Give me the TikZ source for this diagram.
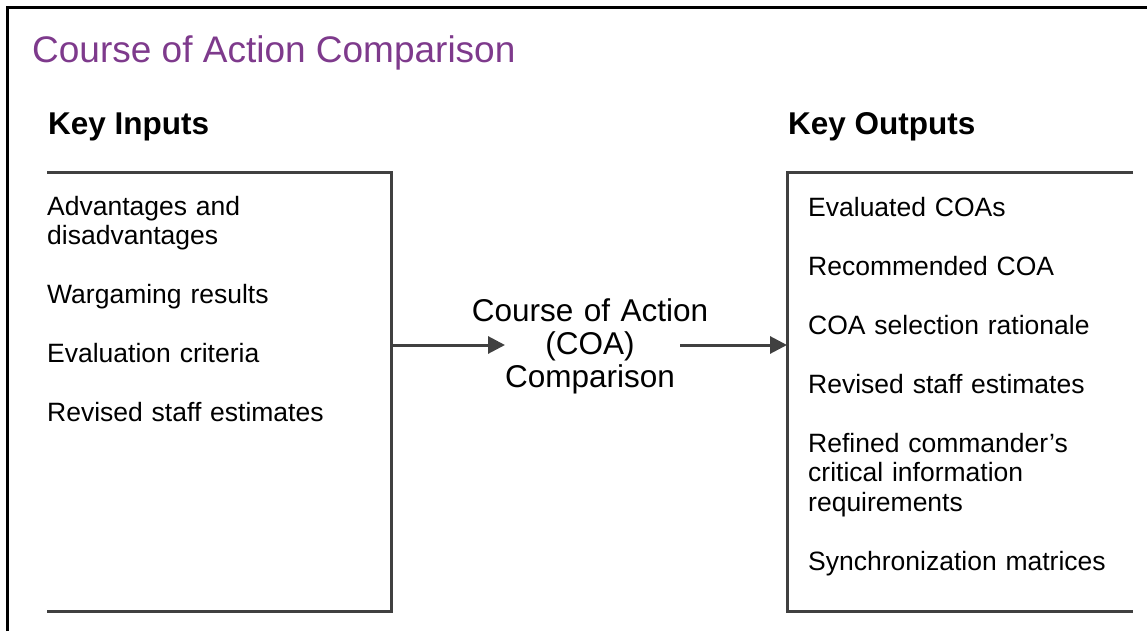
\documentclass[tikz,border=0pt]{standalone}
\usepackage{fontspec}
\setmainfont{Liberation Sans}
\usetikzlibrary{arrows.meta}
\definecolor{titlepurple}{RGB}{126,58,140}
\definecolor{linegray}{RGB}{64,64,64}
\begin{document}
\begin{tikzpicture}[x=1pt,y=-1pt,
  frame/.style={line width=3pt,black},
  bracket/.style={line width=3pt,linegray},
  flow/.style={line width=3pt,linegray,-{Triangle[length=17pt,width=17pt]}},
  head/.style={anchor=base west,inner sep=0,font=\fontsize{31.5}{36}\selectfont\bfseries},
  items/.style={anchor=base west,inner sep=0,text width=330pt,align=left,font=\fontsize{26.5}{29.5}\selectfont}]
\useasboundingbox(0,0)rectangle(1147,631);
\draw[frame](7,631)--(7,8)--(1147,8);
\node[anchor=base west,inner sep=0,text=titlepurple,font=\fontsize{37}{42}\selectfont](title)at(32,63){Course of Action Comparison};
\node[head](inhead)at(48,135){Key Inputs};
\node[head](outhead)at(788,135){Key Outputs};
\draw[bracket](47,173)--(391,173)--(391,611)--(47,611);
\draw[bracket](1133,173)--(787,173)--(787,611)--(1133,611);
\node[items](inlist)at(47,215){Advantages and\\disadvantages\\[29.5pt]Wargaming results\\[29.5pt]Evaluation criteria\\[29.5pt]Revised staff estimates};
\node[items](outlist)at(808,216){Evaluated COAs\\[29.5pt]Recommended COA\\[29.5pt]COA selection rationale\\[29.5pt]Revised staff estimates\\[29.5pt]Refined commander’s\\critical information\\requirements\\[29.5pt]Synchronization matrices};
\node[anchor=base,inner sep=0,text width=280pt,align=center,font=\fontsize{31.5}{33}\selectfont](coa)at(590,321){Course of Action\\(COA)\\Comparison};
\coordinate(inedge)at(391,345);
\coordinate(coain)at(505,345);
\coordinate(coaout)at(680,345);
\coordinate(outedge)at(787,345);
\draw[flow](inedge)--(coain);
\draw[flow](coaout)--(outedge);
\end{tikzpicture}
\end{document}
